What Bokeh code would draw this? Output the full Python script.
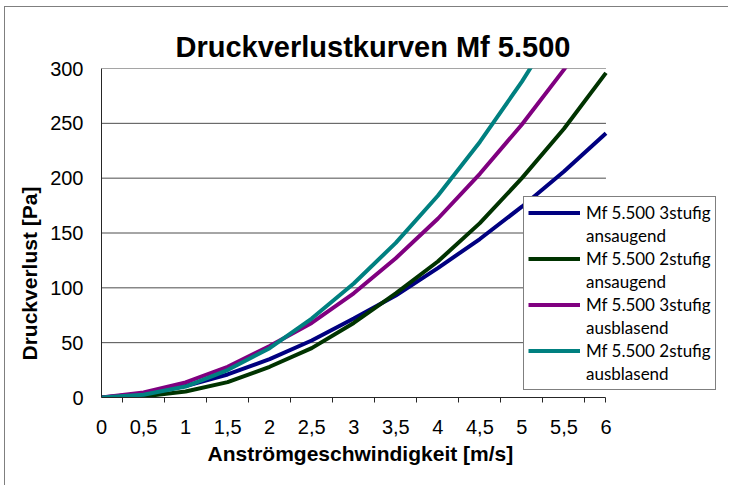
from bokeh.plotting import figure
from bokeh.models import FixedTicker, Legend, LegendItem, Title, Range1d
from bokeh.embed import file_html
from bokeh.resources import INLINE

# ---- data ----
speed = [0, 0.5, 1, 1.5, 2, 2.5, 3, 3.5, 4, 4.5, 5, 5.5, 6]
x_tick_labels = ["0", "0,5", "1", "1,5", "2", "2,5", "3", "3,5", "4", "4,5", "5", "5,5", "6"]
y_ticks = [0, 50, 100, 150, 200, 250, 300]

mf_3stufig_ansaugend = [0, 3.5, 10.5, 21, 35, 52, 72, 93, 118, 144.5, 174, 206, 241]
mf_2stufig_ansaugend = [0, 1, 5.5, 14, 28, 45, 68, 95, 124, 159, 200, 245, 296]
mf_3stufig_ausblasend = [0, 4.6, 13.7, 28, 47, 68, 95, 127, 163, 204, 249, 299, 353]
mf_2stufig_ausblasend = [0, 2.5, 10, 25, 45, 72, 104, 141, 184, 233, 288, 349, 415]

series = [mf_3stufig_ansaugend, mf_2stufig_ansaugend, mf_3stufig_ausblasend, mf_2stufig_ausblasend]
label_line1 = ["Mf 5.500 3stufig", "Mf 5.500 2stufig", "Mf 5.500 3stufig", "Mf 5.500 2stufig"]
label_line2 = ["ansaugend", "ansaugend", "ausblasend", "ausblasend"]
colors = ["#000080", "#003300", "#800080", "#008080"]

title_text = "Druckverlustkurven Mf 5.500"
x_label = "Anströmgeschwindigkeit [m/s]"
y_label = "Druckverlust [Pa]"

FONT = "Liberation Sans"

# the frame is extended to the right so the legend (which overlaps the plot area) is not clipped
x_view_end = 7.362

p = figure(width=724, height=479, output_backend="svg", toolbar_location=None,
           x_range=Range1d(0, x_view_end), y_range=Range1d(0, 300),
           min_border_left=96, min_border_right=9, min_border_top=61, min_border_bottom=89)
p.outline_line_color = None
p.background_fill_color = "white"
p.border_fill_color = "white"
p.styles = {"margin-left": "4px", "margin-top": "6px",
            "border-left": "1px solid #7f7f7f", "border-top": "1px solid #7f7f7f"}

# title
p.title.text = title_text
p.title.align = "left"
p.title.offset = 74
p.title.text_font = FONT
p.title.text_font_size = "29px"
p.title.text_font_style = "bold"
p.title.text_color = "black"
p.title.standoff = 11

# x axis
minor = [(a + b) / 2 for a, b in zip(speed[:-1], speed[1:])] + [speed[-1]]
xax = p.xaxis[0]
xax.bounds = (speed[0], speed[-1])
xax.ticker = FixedTicker(ticks=speed, minor_ticks=minor)
xax.major_label_overrides = dict(zip(speed, x_tick_labels))
xax.major_tick_line_color = None
xax.major_tick_out = 0
xax.major_tick_in = 0
xax.minor_tick_line_color = "#262626"
xax.minor_tick_out = 5
xax.minor_tick_in = 0
xax.major_label_standoff = 17
xax.major_label_text_font = FONT
xax.major_label_text_font_size = "20px"
xax.major_label_text_color = "black"
xax.axis_line_color = "#262626"

# y axis
yax = p.yaxis[0]
yax.ticker = FixedTicker(ticks=y_ticks)
yax.major_tick_line_color = None
yax.major_tick_out = 0
yax.major_tick_in = 0
yax.minor_tick_line_color = None
yax.major_label_standoff = 18
yax.major_label_text_font = FONT
yax.major_label_text_font_size = "20px"
yax.major_label_text_color = "black"
yax.axis_line_color = "#262626"

p.xgrid.visible = False
p.ygrid.visible = False
# horizontal gridlines only across the data area (0..6)
gy = y_ticks[1:]
p.segment(x0=[speed[0]] * len(gy), y0=gy, x1=[speed[-1]] * len(gy), y1=gy,
          line_color="#4d4d4d", line_width=1)

p.add_layout(Title(text=x_label, align="left", offset=106, text_font=FONT,
                   text_font_size="21px", text_font_style="bold", text_color="black",
                   vertical_align="top", standoff=10), "below")
p.add_layout(Title(text=y_label, align="left", offset=37, text_font=FONT,
                   text_font_size="21px", text_font_style="bold", text_color="black",
                   standoff=14), "left")

# lines
items = []
for ys, c, l1, l2 in zip(series, colors, label_line1, label_line2):
    r = p.line(speed, ys, line_color=c, line_width=4)
    d = p.line(x=[], y=[], line_color=c, line_alpha=0)
    items.append(LegendItem(label=l1, renderers=[r]))
    items.append(LegendItem(label=l2, renderers=[d]))

legend = Legend(items=items, location=(422, 7.5),
                label_text_font="Lato", label_text_font_size="17px", label_text_color="black",
                label_height=23, glyph_height=23, glyph_width=52, label_standoff=6,
                spacing=0, padding=4, margin=0,
                border_line_color="black", border_line_width=1,
                background_fill_color="white", background_fill_alpha=1)
p.add_layout(legend)

open("out.html", "w").write(file_html(p, INLINE))
